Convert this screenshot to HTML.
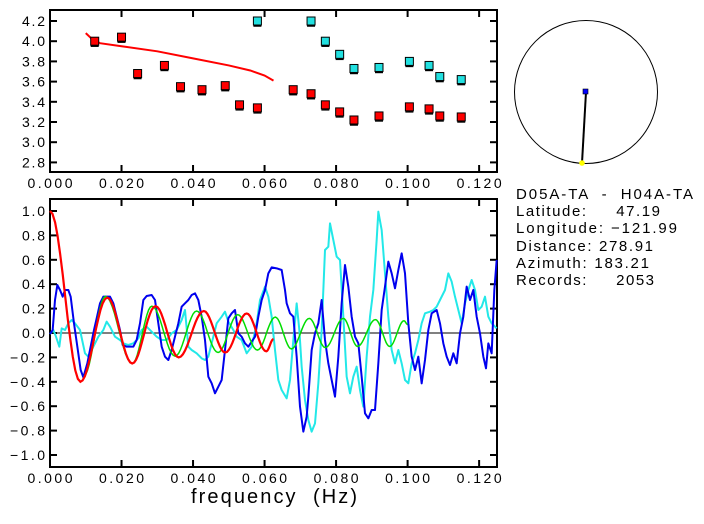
<!DOCTYPE html>
<html><head><meta charset="utf-8"><style>
body{margin:0;background:#fff;width:704px;height:519px;overflow:hidden}
svg text{font-family:"Liberation Sans",sans-serif;}
</style></head><body>
<svg id="s" width="704" height="519" xmlns="http://www.w3.org/2000/svg">
<rect width="704" height="519" fill="#fff"/>
<g id="g"></g>
<circle cx="586" cy="92" r="71.5" fill="none" stroke="#000" stroke-width="1"/>
<line x1="586" y1="92" x2="582" y2="163" stroke="#000" stroke-width="2"/>
<rect x="583" y="89" width="5" height="5" fill="#0000ff" stroke="#000" stroke-width="0.6"/>
<circle cx="582" cy="163" r="2.8" fill="#ffff00"/>
<g font-size="15" fill="#000">
<text x="516" y="199" xml:space="preserve" textLength="177" lengthAdjust="spacing">D05A-TA  -  H04A-TA</text>
<text x="516" y="216" xml:space="preserve" textLength="144" lengthAdjust="spacing">Latitude:     47.19</text>
<text x="516" y="233" xml:space="preserve" textLength="161" lengthAdjust="spacing">Longitude: −121.99</text>
<text x="516" y="251" xml:space="preserve" textLength="137" lengthAdjust="spacing">Distance: 278.91</text>
<text x="516" y="268" xml:space="preserve" textLength="133" lengthAdjust="spacing">Azimuth: 183.21</text>
<text x="516" y="285" xml:space="preserve" textLength="138" lengthAdjust="spacing">Records:     2053</text>
</g>
<text x="191" y="503" font-size="20" xml:space="preserve" textLength="166" lengthAdjust="spacing">frequency  (Hz)</text>
</svg>
<script>
const g=document.getElementById('g');let h='';
const X=f=>50+f/0.125*447;
const L=50,R=497;
const T0=10,T1=172,TY=v=>21+(4.2-v)/0.2*20.2;
const B0=199,B1=467,BY=v=>333-v*122;
function frame(t,b){h+=`<rect x="${L}" y="${t}" width="${R-L}" height="${b-t}" fill="none" stroke="#000" stroke-width="2"/>`;
for(let i=0;i<=6;i++){const x=X(i*0.02);h+=`<line x1="${x}" y1="${t}" x2="${x}" y2="${t+7}" stroke="#000" stroke-width="2"/><line x1="${x}" y1="${b}" x2="${x}" y2="${b-7}" stroke="#000" stroke-width="2"/>`;
h+=`<text x="${x-22.5}" y="${b+16}" font-size="14" textLength="45" lengthAdjust="spacing">${(i*0.02).toFixed(3)}</text>`;}}
frame(T0,T1);frame(B0,B1);
for(let i=0;i<8;i++){const v=2.8+i*0.2,y=TY(v);h+=`<line x1="${L}" y1="${y}" x2="${L+7}" y2="${y}" stroke="#000" stroke-width="2"/><line x1="${R}" y1="${y}" x2="${R-7}" y2="${y}" stroke="#000" stroke-width="2"/><text x="22" y="${y+5}" font-size="14" textLength="23" lengthAdjust="spacing">${v.toFixed(1)}</text>`;}
for(let i=-5;i<=5;i++){const v=i*0.2,y=BY(v);const neg=v<-1e-9;h+=`<line x1="${L}" y1="${y}" x2="${L+7}" y2="${y}" stroke="#000" stroke-width="2"/><line x1="${R}" y1="${y}" x2="${R-7}" y2="${y}" stroke="#000" stroke-width="2"/><text x="${neg?10:22}" y="${y+5}" font-size="14" textLength="${neg?35:23}" lengthAdjust="spacing">${neg?'−'+(-v).toFixed(1):Math.abs(v).toFixed(1)}</text>`;}
h+=`<line x1="${L}" y1="${BY(0)}" x2="${R}" y2="${BY(0)}" stroke="#000" stroke-width="1"/>`;
const rc=[[0.010,4.08],[0.0115,4.03],[0.014,3.98],[0.02,3.95],[0.03,3.9],[0.04,3.83],[0.05,3.76],[0.056,3.71],[0.06,3.66],[0.0625,3.61]];
h+=`<polyline fill="none" stroke="#f00" stroke-width="2" points="${rc.map(p=>X(p[0])+','+TY(p[1])).join(' ')}"/>`;
const sq=(f,v,c)=>{const x=X(f),y=TY(v);h+=`<line x1="${x-4}" y1="${y+5}" x2="${x+4}" y2="${y+5}" stroke="#000" stroke-width="1.5"/><line x1="${x}" y1="${y-1}" x2="${x}" y2="${y+5}" stroke="#000" stroke-width="1.5"/><rect x="${x-4}" y="${y-4}" width="8" height="8" fill="${c}" stroke="#000" stroke-width="1"/>`;};
[[0.0125,4.0],[0.020,4.04],[0.0245,3.68],[0.032,3.76],[0.0365,3.55],[0.0425,3.52],[0.049,3.56],[0.053,3.37],[0.058,3.34],[0.068,3.52],[0.073,3.48],[0.077,3.37],[0.081,3.30],[0.085,3.22],[0.092,3.26],[0.1005,3.35],[0.106,3.33],[0.109,3.26],[0.115,3.25]].forEach(p=>sq(p[0],p[1],'#f00'));
[[0.058,4.2],[0.073,4.2],[0.077,4.0],[0.081,3.87],[0.085,3.73],[0.092,3.74],[0.1005,3.8],[0.106,3.76],[0.109,3.65],[0.115,3.62]].forEach(p=>sq(p[0],p[1],'#22e0e0'));
function pl(arr,c,w){const p=[];for(let i=0;i<arr.length;i+=2)p.push(arr[i]/3+','+(190+arr[i+1]/3));h+=`<polyline fill="none" stroke="${c}" stroke-width="${w}" stroke-linejoin="round" points="${p.join(' ')}"/>`;}
const cyan=[150,432,160,420,168,440,178,470,185,415,195,420,205,400,215,390,225,400,240,420,255,490,265,500,280,470,295,440,310,420,320,395,330,410,345,440,360,450,370,460,385,465,400,460,415,445,425,420,440,410,455,425,470,440,485,450,500,450,515,430,530,420,545,390,555,360,565,470,575,480,590,490,605,505,615,510,625,500,640,440,650,400,665,380,675,365,685,395,700,420,710,440,725,450,740,490,755,470,770,400,780,330,795,290,805,320,815,380,825,480,835,570,845,600,860,625,870,570,880,450,890,340,898,420,905,530,915,630,925,690,935,725,945,700,955,580,965,420,975,180,985,170,990,100,1000,150,1010,200,1020,210,1030,380,1040,560,1050,610,1060,560,1070,530,1080,600,1090,650,1100,500,1110,380,1120,300,1130,150,1135,65,1145,120,1155,250,1165,380,1175,480,1185,520,1195,480,1205,520,1215,570,1225,580,1235,520,1245,490,1255,450,1265,400,1275,370,1290,365,1300,360,1310,350,1320,330,1335,300,1345,250,1355,275,1365,320,1375,360,1385,400,1395,340,1405,300,1415,270,1425,300,1435,360,1445,350,1455,320,1465,380,1475,400,1490,415];
const blue=[150,432,158,420,165,330,172,285,180,300,188,320,195,300,205,300,212,320,222,400,232,470,242,540,250,562,262,520,270,480,282,420,290,385,300,340,310,320,330,320,340,340,350,380,360,420,368,465,380,470,400,470,410,450,420,400,430,330,440,318,455,315,465,330,475,400,485,470,495,500,505,510,515,480,525,440,535,400,545,350,555,340,565,330,575,315,585,310,595,330,605,380,615,450,625,560,635,580,645,610,655,590,665,570,675,480,685,385,695,370,705,360,715,430,725,440,735,460,745,470,755,455,765,440,775,380,785,330,795,300,805,250,815,232,830,235,845,240,855,300,860,340,870,370,880,380,890,500,900,650,910,725,920,680,925,620,935,480,945,430,955,400,965,330,975,450,985,520,995,570,1005,620,1015,500,1025,340,1035,225,1045,290,1055,380,1065,440,1075,460,1085,560,1095,670,1105,685,1115,660,1125,660,1135,520,1145,360,1155,290,1165,215,1175,250,1185,295,1195,240,1205,190,1215,250,1225,400,1235,500,1245,540,1255,500,1265,580,1275,510,1285,420,1295,370,1310,360,1320,400,1330,460,1340,500,1350,525,1360,490,1370,520,1380,430,1390,380,1400,290,1410,330,1420,300,1430,380,1440,430,1450,500,1458,535,1465,460,1475,490,1483,300,1490,210];
pl(cyan,'#22e8e8',2);pl(blue,'#0000ee',2);
function ext(e,c,w){const p=[];for(let i=0;i<e.length-1;i++){const[a,va]=e[i],[b,vb]=e[i+1];for(let k=0;k<12;k++){const t=k/12,f=a+(b-a)*t,v=va+(vb-va)*(1-Math.cos(Math.PI*t))/2;p.push(X(f).toFixed(1)+','+BY(v).toFixed(1));}}const l=e[e.length-1];p.push(X(l[0])+','+BY(l[1]));h+=`<polyline fill="none" stroke="${c}" stroke-width="${w}" points="${p.join(' ')}"/>`;}
ext([[0.0095,-0.35],[0.0155,0.3],[0.023,-0.25],[0.0285,0.22],[0.035,-0.19],[0.041,0.18],[0.047,-0.16],[0.0525,0.15],[0.058,-0.14],[0.063,0.13],[0.0675,-0.13],[0.0725,0.12],[0.077,-0.12],[0.082,0.12],[0.086,-0.11],[0.091,0.11],[0.095,-0.11],[0.099,0.1],[0.1,0.07]],'#00dd00',1.5);
ext([[0,1.0],[0.0085,-0.4],[0.016,0.29],[0.023,-0.25],[0.0295,0.22],[0.036,-0.2],[0.043,0.18],[0.049,-0.16],[0.055,0.16],[0.0605,-0.15],[0.0625,-0.05]],'#ff0000',2.2);
g.innerHTML=h;
</script>
</body></html>
